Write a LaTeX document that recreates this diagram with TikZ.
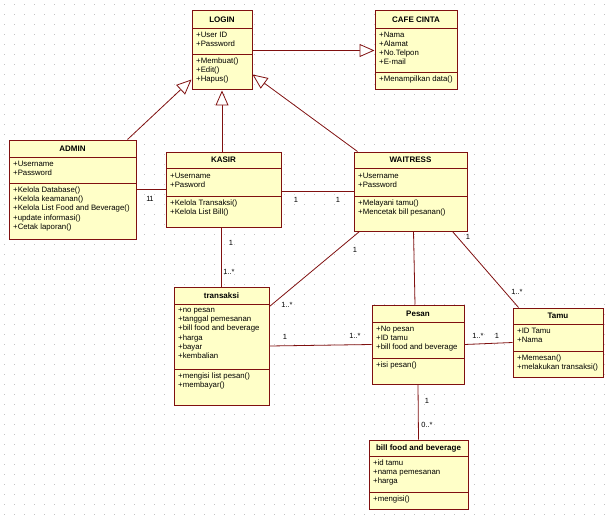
\documentclass[tikz,border=0pt]{standalone}
\usepackage{fontspec}
\setmainfont{Liberation Sans}
\usetikzlibrary{arrows.meta}
\definecolor{umlline}{RGB}{128,16,16}
\definecolor{umlfill}{RGB}{255,255,200}
\definecolor{griddot}{RGB}{195,195,195}

\begin{document}
\begin{tikzpicture}[x=1pt, y=-1pt,
  cls/.style={rectangle, draw=umlline, fill=umlfill, line width=1pt, inner sep=0pt},
  sepline/.style={draw=umlline, line width=0.8pt},
  ttl/.style={font=\fontsize{8}{9.3}\selectfont\bfseries, inner sep=0pt},
  txt/.style={anchor=north west, align=left, inner sep=0pt, font=\fontsize{7.8}{9.3}\selectfont},
  mult/.style={font=\fontsize{7.5}{9}\selectfont, inner sep=0pt},
  assoc/.style={draw=umlline, line width=0.8pt},
  gen/.style={draw=umlline, line width=0.8pt, -{Triangle[length=15pt, width=13pt, fill=white]}}]
\useasboundingbox[fill=white] (0,0) rectangle (610,516);
\foreach \x in {4,14,...,604}
 \foreach \y in {4,14,...,514}
  \fill[griddot] (\x,\y) rectangle ++(1,1);

\node[cls, minimum width=60pt, minimum height=79pt] (login) at (222,50.5) {};
\node[ttl] (login-t) at (222,19.5) {LOGIN};
\draw[sepline] (192,28) -- (252,28) (192,54) -- (252,54);
\node[txt] (login-a) at (196,31.5) {+User ID\\+Password};
\node[txt] (login-o) at (196,57.5) {+Membuat()\\+Edit()\\+Hapus()};

\node[cls, minimum width=82pt, minimum height=79pt] (cafe) at (416,50.5) {};
\node[ttl] (cafe-t) at (416,19.5) {CAFE CINTA};
\draw[sepline] (375,28) -- (457,28) (375,72) -- (457,72);
\node[txt] (cafe-a) at (379,31.5) {+Nama\\+Alamat\\+No.Telpon\\+E-mail};
\node[txt] (cafe-o) at (379,75.5) {+Menampilkan data()};

\node[cls, minimum width=127pt, minimum height=99pt] (admin) at (72.5,189.5) {};
\node[ttl] (admin-t) at (72.5,148.5) {ADMIN};
\draw[sepline] (9,157) -- (136,157) (9,183) -- (136,183);
\node[txt] (admin-a) at (13,160.5) {+Username\\+Password};
\node[txt] (admin-o) at (13,186.5) {+Kelola Database()\\+Kelola keamanan()\\+Kelola List Food and Beverage()\\+update informasi()\\+Cetak laporan()};

\node[cls, minimum width=115pt, minimum height=75pt] (kasir) at (223.5,189.5) {};
\node[ttl] (kasir-t) at (223.5,160) {KASIR};
\draw[sepline] (166,168) -- (281,168) (166,196) -- (281,196);
\node[txt] (kasir-a) at (170,172.5) {+Username\\+Pasword};
\node[txt] (kasir-o) at (170,199.5) {+Kelola Transaksi()\\+Kelola List Bill()};

\node[cls, minimum width=113pt, minimum height=79pt] (waitress) at (410.5,191.5) {};
\node[ttl] (waitress-t) at (410.5,160) {WAITRESS};
\draw[sepline] (354,168) -- (467,168) (354,196) -- (467,196);
\node[txt] (waitress-a) at (358,172.5) {+Username\\+Password};
\node[txt] (waitress-o) at (358,199.5) {+Melayani tamu()\\+Mencetak bill pesanan()};

\node[cls, minimum width=95pt, minimum height=118pt] (transaksi) at (221.5,346) {};
\node[ttl] (transaksi-t) at (221.5,295.5) {transaksi};
\draw[sepline] (174,304) -- (269,304) (174,369) -- (269,369);
\node[txt] (transaksi-a) at (178,307.5) {+no pesan\\+tanggal pemesanan\\+bill food and beverage\\+harga\\+bayar\\+kembalian};
\node[txt] (transaksi-o) at (178,372.5) {+mengisi list pesan()\\+membayar()};

\node[cls, minimum width=92pt, minimum height=79pt] (pesan) at (418,344.5) {};
\node[ttl] (pesan-t) at (418,313.5) {Pesan};
\draw[sepline] (372,322) -- (464,322) (372,358) -- (464,358);
\node[txt] (pesan-a) at (376,325.5) {+No pesan\\+ID tamu\\+bill food and beverage};
\node[txt] (pesan-o) at (376,361.5) {+isi pesan()};

\node[cls, minimum width=90pt, minimum height=69pt] (tamu) at (558,342.5) {};
\node[ttl] (tamu-t) at (558,316) {Tamu};
\draw[sepline] (513,324) -- (603,324) (513,351) -- (603,351);
\node[txt] (tamu-a) at (517,327.5) {+ID Tamu\\+Nama};
\node[txt] (tamu-o) at (517,354.5) {+Memesan()\\+melakukan transaksi()};

\node[cls, minimum width=99pt, minimum height=69pt] (bill) at (418.5,474.5) {};
\node[ttl] (bill-t) at (418.5,448) {bill food and beverage};
\draw[sepline] (369,456) -- (468,456) (369,492) -- (468,492);
\node[txt] (bill-a) at (373,459.5) {+id tamu\\+nama pemesanan\\+harga};
\node[txt] (bill-o) at (373,495.5) {+mengisi()};

\draw[gen] ([xshift=-9pt]admin.north east) -- ([yshift=11pt]login.south west);
\draw[gen] (login.south |- kasir.north) -- (login.south);
\draw[gen] ([xshift=4pt]waitress.north west) -- ([yshift=16pt]login.south east);
\draw[gen] (login.east) -- (cafe.west);

\draw[assoc] (admin) -- (kasir);
\node[mult] (m1) at (148.5,199) {1};
\node[mult] (m2) at (151.5,199) {1};
\draw[assoc] ([yshift=-1.5pt]kasir.east) -- ([yshift=0.5pt]waitress.west);
\node[mult] (m3) at (296,200) {1};
\node[mult] (m4) at (338,200) {1};
\draw[assoc] (transaksi.north) -- (transaksi.north |- kasir.south);
\node[mult] (m5) at (231,243) {1};
\node[mult] (m6) at (229,272) {1..*};
\draw[assoc] ([xshift=6pt]waitress.south west) -- ([yshift=-20pt]transaksi.north east);
\node[mult] (m7) at (355,250) {1};
\node[mult] (m8) at (287,305) {1..*};
\draw[assoc] ([xshift=3pt]waitress.south) -- ([xshift=-3pt]pesan.north);
\draw[assoc] ([xshift=-15pt]waitress.south east) -- ([xshift=6pt]tamu.north west);
\node[mult] (m9) at (468,237) {1};
\node[mult] (m10) at (517,292) {1..*};
\draw[assoc] (transaksi.east) -- (pesan.west);
\node[mult] (m11) at (285,337) {1};
\node[mult] (m12) at (355,336) {1..*};
\draw[assoc] (pesan.east) -- (tamu.west);
\node[mult] (m13) at (478,336) {1..*};
\node[mult] (m14) at (497,336) {1};
\draw[assoc] (pesan.south) -- (bill.north);
\node[mult] (m15) at (427,401) {1};
\node[mult] (m16) at (427,425) {0..*};
\end{tikzpicture}
\end{document}
